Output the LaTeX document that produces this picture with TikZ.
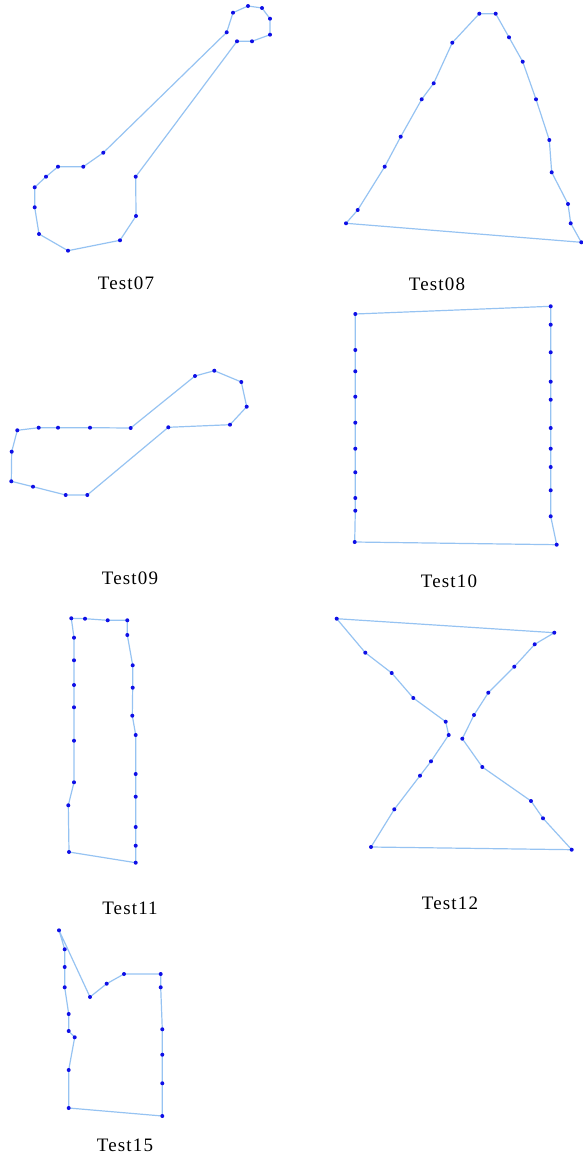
\documentclass[tikz,border=0pt]{standalone}
\usepackage{fontspec}
\setmainfont{Liberation Serif}
\usetikzlibrary{positioning}

\definecolor{edgeblue}{RGB}{150,195,242}
\definecolor{ptblue}{RGB}{15,15,230}

\tikzset{
  outline/.style={draw=edgeblue, line width=1.2pt, line join=round},
  pt/.style={fill=ptblue},
  caption/.style={font=\fontsize{19}{19}\selectfont\addfontfeature{LetterSpace=6}, inner sep=0pt}
}

% one test polygon: outline first, then its points
\newcommand{\testpoly}[2]{%
  \draw[outline] #1 \foreach \p in {#2} { -- \p } -- cycle;
  \foreach \p in {#1,#2} \fill[pt] \p circle (2pt);
}

\begin{document}
\begin{tikzpicture}[x=1pt, y=-1pt]
\useasboundingbox (0,0) rectangle (583,1159);

% Test07
\testpoly{(233,12.7)}{(248,6),(262,8),(270,18.7),(270,34.7),(252,41.3),(237,41.3),
  (135.7,176.7),(136,216),(120,240.3),(68,250.7),(39,234),(34.7,207.3),(34.7,187.3),
  (46,176.7),(58,166.7),(83.3,166.7),(103.3,152.7),(226.7,32.3)}
\node[caption] (t07) at (126,283) {Test07};

% Test08
\testpoly{(479.3,13.7)}{(495.7,13.7),(509,37.3),(522.7,61.7),(536,99.3),(549.3,140),
  (551.7,172.3),(568,204),(570.7,223.3),(581.3,242.3),(346,223.3),(357.7,210),
  (384.7,166.7),(400.7,136.7),(421.7,99.3),(433.7,83.3),(452.3,42.7)}
\node[caption] (t08) at (437,284) {Test08};

% Test09
\testpoly{(17.3,430.3)}{(38.7,427.7),(58,427.7),(90,427.7),(130.7,428),(195,376),
  (214.3,370.7),(241.3,382),(246.7,406.7),(230,424.7),(168.3,427.3),(87.3,495),
  (65.7,495),(33,486.7),(11.3,481.3),(11.7,451.7)}
\node[caption] (t09) at (130,578) {Test09};

% Test10
\testpoly{(355.3,314)}{(550.7,306.3),(550.7,324.7),(550.7,352.3),(550.7,381.7),
  (550.7,399.7),(550.7,428),(550.7,448.7),(550.7,467),(550.7,490.3),(550.7,516.3),
  (556.7,544.7),(354.7,542),(355.3,510.7),(355.3,498),(355.3,472.3),(355.3,448.7),
  (355.3,422.7),(355.3,396.7),(355.3,371.3),(355.3,350)}
\node[caption] (t10) at (449,581) {Test10};

% Test11
\testpoly{(71.3,618.3)}{(85,618.7),(107.7,620.3),(127.3,620.3),(127.3,635),
  (132.7,665.3),(132.7,687.7),(132.3,715.7),(135.7,735),(135.7,774),(135.7,796.7),
  (135.7,827),(135.7,845.7),(135.7,862.7),(69,852),(68.3,805.3),(74,782.3),
  (74,740.7),(74,707.3),(74,685),(74,660.3),(74,637.7)}
\node[caption] (t11) at (130,908) {Test11};

% Test12
\testpoly{(336.7,618.7)}{(554.3,632.7),(534.7,644.3),(514.3,666.7),(488.3,692.7),
  (474,715),(462.3,738.7),(482.3,767),(531,801),(543,818.3),(571.7,849.7),
  (371,847),(394.3,809.3),(420,775.7),(431,761.3),(448.7,735),(445.7,721.7),
  (413.3,698),(391.7,673),(365.3,652.7)}
\node[caption] (t12) at (450,903) {Test12};

% Test15
\testpoly{(59,930.3)}{(90,997),(106.7,983.7),(124,974),(160.7,974),(160.7,987.3),
  (162.3,1029.3),(162.3,1054.7),(162.3,1083.3),(162.3,1116),(68.7,1108),
  (68.7,1070),(74.7,1037.3),(68.7,1031),(68.7,1014),(64.7,987.3),(64.7,967),
  (64.7,949.3)}
\node[caption] (t15) at (125,1145) {Test15};
\end{tikzpicture}
\end{document}
